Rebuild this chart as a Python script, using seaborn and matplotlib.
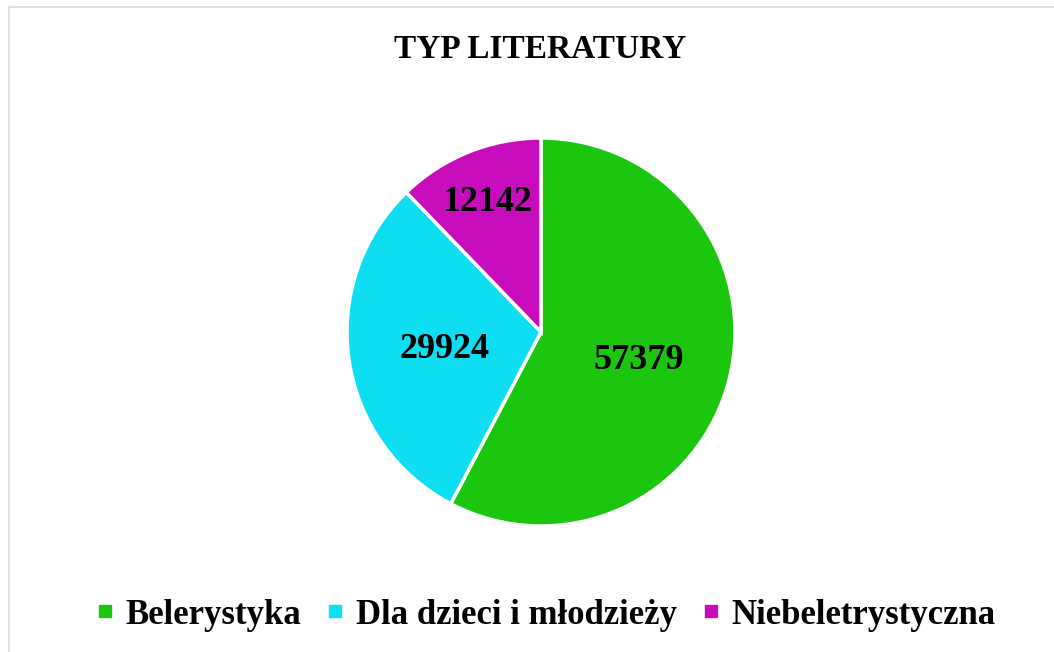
import matplotlib
matplotlib.use('Agg')
import matplotlib.pyplot as plt
from matplotlib.lines import Line2D
from matplotlib.patches import Rectangle
import numpy as np
import seaborn as sns

# data
categories = ['Belerystyka', 'Dla dzieci i młodzieży', 'Niebeletrystyczna']
counts = [57379, 29924, 12142]
colors = ['#1AC60E', '#0EDEF2', '#C70CBB']
label_radius = [0.52, 0.50, 0.74]  # where Excel put each number inside its slice

sns.set_style('white')
plt.rcParams['font.family'] = ['Liberation Serif', 'DejaVu Serif']
plt.rcParams['text.color'] = 'black'

fig = plt.figure(figsize=(10.54, 6.52), dpi=100)

# light grey chart border (runs off the right and bottom edge)
fig.patches.append(Rectangle((9 / 1054, -0.05), 1.1, (652 - 7) / 652 + 0.05,
                             transform=fig.transFigure, fill=False,
                             edgecolor='#d9d9d9', linewidth=1.2))

ax = fig.add_axes([347 / 1054, 126 / 652, 388 / 1054, 388 / 652])
wedges, _ = ax.pie(counts, colors=colors, startangle=90, counterclock=False,
                   wedgeprops=dict(edgecolor='white', linewidth=2.5))
ax.set_xlim(-1.0, 1.0)
ax.set_ylim(-1.0, 1.0)
ax.set_aspect('equal')
ax.axis('off')

# numbers inside slices
for w, value, r in zip(wedges, counts, label_radius):
    mid = np.deg2rad((w.theta1 + w.theta2) / 2)
    ax.text(r * np.cos(mid), r * np.sin(mid), str(value), ha='center', va='center_baseline',
            fontsize=26, fontweight='bold', color='black')

fig.text(540 / 1054, 1 - 49 / 652, 'TYP LITERATURY', ha='center', va='center',
         fontsize=24, fontweight='bold', color='black')

handles = [Line2D([], [], marker='s', linestyle='', markersize=9, color=c) for c in colors]
leg = fig.legend(handles, categories, loc='center', bbox_to_anchor=(546 / 1054, 1 - 615 / 652),
                 ncol=3, frameon=False, handlelength=0.5, handletextpad=0.35,
                 columnspacing=0.72, prop={'size': 25, 'weight': 'bold'})
for t in leg.get_texts():
    t.set_color('black')

fig.savefig('out.png', dpi=100)
